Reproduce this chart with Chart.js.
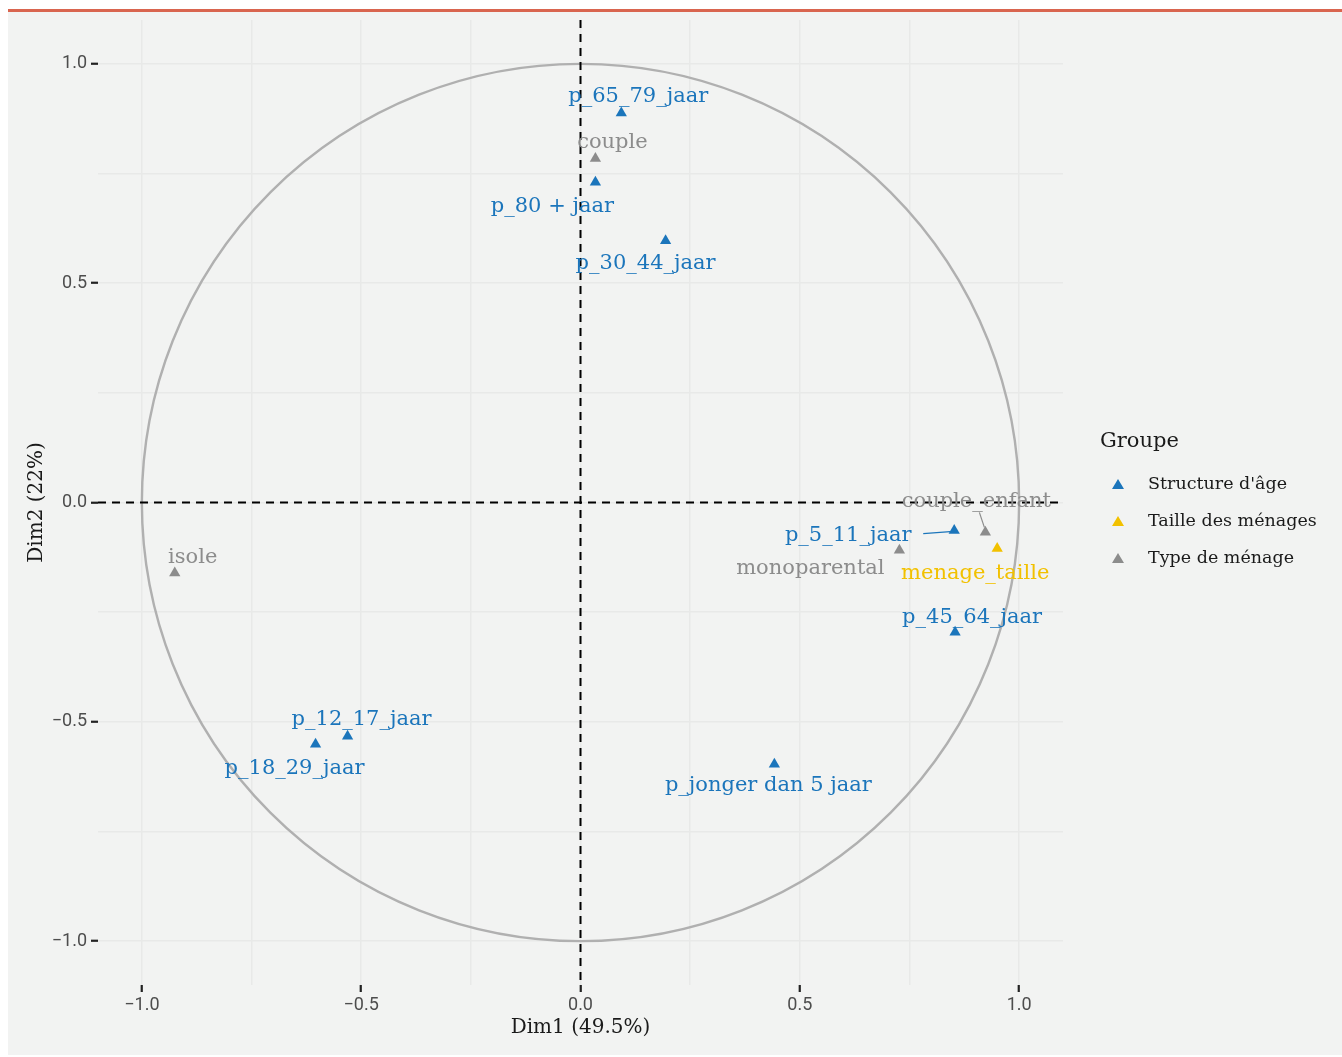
<!DOCTYPE html>
<html>
<head>
<meta charset="utf-8">
<script src="https://cdn.jsdelivr.net/npm/chart.js@4"></script>
<style>
  html, body { margin: 0; padding: 0; background: #ffffff; }
  #wrap { width: 1342px; height: 1057px; }
</style>
</head>
<body>
<div id="wrap"><canvas id="pcaChart" width="1342" height="1057"></canvas></div>
<script>
// variables and their coordinates on the first two dimensions
const varNames = ['p_65_79_jaar', 'couple', 'p_80 + jaar', 'p_30_44_jaar', 'couple_enfant', 'p_5_11_jaar',
    'monoparental', 'menage_taille', 'p_45_64_jaar', 'isole', 'p_12_17_jaar', 'p_18_29_jaar', 'p_jonger dan 5 jaar'];
const dim1 = [0.093, 0.034, 0.034, 0.194, 0.923, 0.852, 0.727, 0.950, 0.854, -0.925, -0.531, -0.604, 0.442];
const dim2 = [0.888, 0.784, 0.730, 0.597, -0.068, -0.064, -0.109, -0.105, -0.296, -0.161, -0.533, -0.551, -0.597];
const varGroup = ['Structure d\'âge', 'Type de ménage', 'Structure d\'âge', 'Structure d\'âge', 'Type de ménage',
    'Structure d\'âge', 'Type de ménage', 'Taille des ménages', 'Structure d\'âge', 'Type de ménage',
    'Structure d\'âge', 'Structure d\'âge', 'Structure d\'âge'];

const groups = ['Structure d\'âge', 'Taille des ménages', 'Type de ménage'];
const majorTicks = [-1, -0.5, 0, 0.5, 1];
const minorTicks = [-0.75, -0.25, 0.25, 0.75];

const groupColours = {
    'Structure d\'âge': '#1b75bb',
    'Taille des ménages': '#f2c100',
    'Type de ménage': '#8c8c8c'
};

// repel-style label offsets in pixels (dx, dy from the point)
const labelNudge = [[17, -16], [17, -16], [-43, 24], [-20, 23], [-9, -31], [-106, 5],
    [-89, 18], [-22, 25], [17, -15], [18, -16], [14, -17], [-21, 24], [-6, 21]];

const serif = '"DejaVu Serif", serif';
const sans = 'Roboto, "Liberation Sans", sans-serif';

const datasets = groups.map(g => ({
    label: g,
    data: varNames.map((n, i) => ({ x: dim1[i], y: dim2[i], name: n, idx: i }))
        .filter(p => varGroup[p.idx] === g),
    pointStyle: 'triangle',
    pointRadius: 6.5,
    pointHoverRadius: 6.5,
    backgroundColor: groupColours[g],
    borderColor: groupColours[g],
    borderWidth: 0
}));

// page background and top rule
const background = {
    id: 'background',
    beforeDraw(chart) {
        const ctx = chart.ctx;
        ctx.save();
        ctx.fillStyle = '#f2f3f2';
        ctx.fillRect(8, 12, 1334, 1043);
        ctx.fillStyle = '#d9654f';
        ctx.fillRect(8, 9, 1334, 3);
        ctx.restore();
    }
};

// correlation circle and dashed axes, drawn under the points
const circleAndAxes = {
    id: 'circleAndAxes',
    beforeDatasetsDraw(chart) {
        const { ctx, chartArea: a, scales: { x, y } } = chart;
        ctx.save();
        const cx = x.getPixelForValue(0), cy = y.getPixelForValue(0);
        const rx = x.getPixelForValue(1) - cx, ry = cy - y.getPixelForValue(1);
        ctx.strokeStyle = '#b0b0b0';
        ctx.lineWidth = 2.4;
        ctx.beginPath();
        ctx.ellipse(cx, cy, rx, ry, 0, 0, Math.PI * 2);
        ctx.stroke();

        ctx.strokeStyle = '#000000';
        ctx.lineWidth = 2;
        ctx.setLineDash([8, 6]);
        ctx.beginPath();
        ctx.moveTo(a.left, cy);
        ctx.lineTo(a.right, cy);
        ctx.moveTo(cx, a.top);
        ctx.lineTo(cx, a.bottom);
        ctx.stroke();
        ctx.restore();
    }
};

// text labels with a short segment when the label sits far away
const pointLabels = {
    id: 'pointLabels',
    afterDatasetsDraw(chart) {
        const { ctx, scales: { x, y } } = chart;
        ctx.save();
        ctx.font = '21px ' + serif;
        ctx.textAlign = 'center';
        ctx.textBaseline = 'middle';
        varNames.forEach((name, i) => {
            const px = x.getPixelForValue(dim1[i]);
            const py = y.getPixelForValue(dim2[i]);
            const lx = px + labelNudge[i][0];
            const ly = py + labelNudge[i][1];
            const col = groupColours[varGroup[i]];
            if (name === 'p_5_11_jaar') {
                ctx.strokeStyle = col;
                ctx.lineWidth = 1.2;
                ctx.beginPath();
                ctx.moveTo(px - 31, py + 3);
                ctx.lineTo(px - 4, py + 1);
                ctx.stroke();
            }
            if (name === 'couple_enfant') {
                ctx.strokeStyle = col;
                ctx.lineWidth = 1.2;
                ctx.beginPath();
                ctx.moveTo(px - 6, py - 20);
                ctx.lineTo(px - 1, py - 5);
                ctx.stroke();
            }
            ctx.fillStyle = col;
            ctx.fillText(name, lx, ly);
        });
        ctx.restore();
    }
};

// legend drawn on the right like ggplot
const sideLegend = {
    id: 'sideLegend',
    afterDraw(chart) {
        const ctx = chart.ctx;
        ctx.save();
        ctx.textBaseline = 'middle';
        ctx.textAlign = 'left';
        ctx.fillStyle = '#1a1a1a';
        ctx.font = '21px ' + serif;
        ctx.fillText('Groupe', 1100, 442);
        ctx.font = '17.5px ' + serif;
        groups.forEach((g, i) => {
            const yy = 484 + i * 37;
            ctx.fillStyle = groupColours[g];
            ctx.beginPath();
            ctx.moveTo(1118, yy - 5);
            ctx.lineTo(1124, yy + 5);
            ctx.lineTo(1112, yy + 5);
            ctx.closePath();
            ctx.fill();
            ctx.fillStyle = '#1a1a1a';
            ctx.fillText(g, 1148, yy);
        });
        ctx.restore();
    }
};

function axisTicks(scale) {
    scale.ticks = majorTicks.concat(minorTicks).sort((a, b) => a - b).map(v => ({ value: v }));
}
const isMajor = v => majorTicks.some(m => Math.abs(m - v) < 1e-9);
const tickText = v => isMajor(v) ? v.toFixed(1).replace('-', '\u2212') : '';

const gridOpts = {
    color: '#e8e9e8',
    lineWidth: 1.5,
    tickColor: c => (c.tick && isMajor(c.tick.value)) ? '#222222' : 'rgba(0,0,0,0)',
    tickLength: 7,
    tickWidth: 2.2
};

const ctx = document.getElementById('pcaChart').getContext('2d');
new Chart(ctx, {
    type: 'scatter',
    data: { datasets: datasets },
    plugins: [background, circleAndAxes, pointLabels, sideLegend],
    options: {
        responsive: false,
        animation: false,
        layout: { padding: { top: 20, right: 279, bottom: 0, left: 0 } },
        plugins: {
            legend: { display: false },
            tooltip: { enabled: false }
        },
        scales: {
            x: {
                min: -1.1,
                max: 1.1,
                afterBuildTicks: axisTicks,
                afterFit: s => { s.height = 72; },
                border: { display: false },
                grid: gridOpts,
                ticks: {
                    autoSkip: false,
                    maxRotation: 0,
                    padding: 3,
                    color: '#4d4d4d',
                    font: { family: sans, size: 18 },
                    callback: tickText
                },
                title: {
                    display: true,
                    text: 'Dim1 (49.5%)',
                    color: '#1a1a1a',
                    font: { family: serif, size: 20 },
                    padding: { top: 0, bottom: 17 }
                }
            },
            y: {
                min: -1.1,
                max: 1.1,
                afterBuildTicks: axisTicks,
                afterFit: s => { s.width = 98; },
                border: { display: false },
                grid: gridOpts,
                ticks: {
                    autoSkip: false,
                    padding: 4,
                    color: '#4d4d4d',
                    font: { family: sans, size: 18 },
                    callback: tickText
                },
                title: {
                    display: true,
                    text: 'Dim2 (22%)',
                    color: '#1a1a1a',
                    font: { family: serif, size: 20 },
                    padding: { top: 25, bottom: 0 }
                }
            }
        }
    }
});
</script>
</body>
</html>
